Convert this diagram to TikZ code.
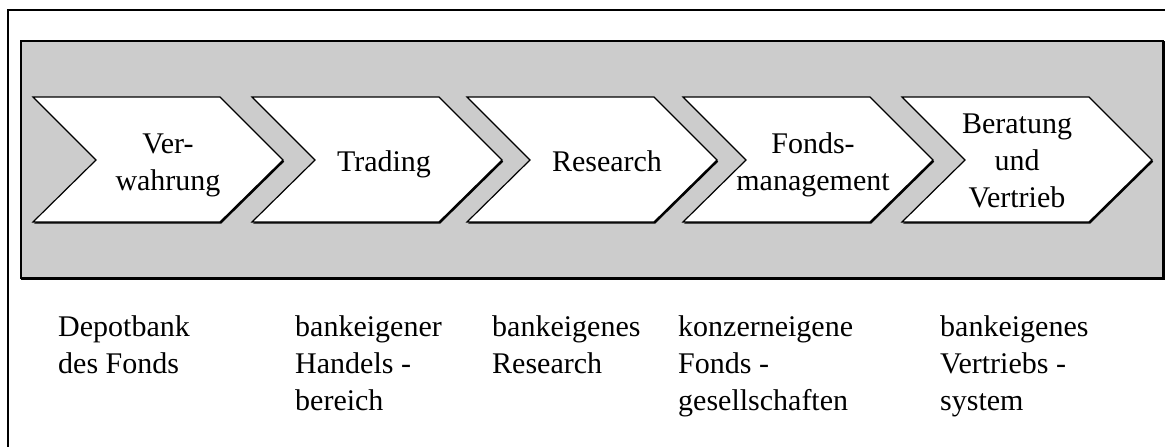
\documentclass[tikz,border=0pt]{standalone}
\usepackage{fontspec}
\setmainfont{Liberation Serif}
\begin{document}
\begin{tikzpicture}[x=1pt,y=-1pt,
  txt/.style={font=\fontsize{30}{37}\selectfont, inner sep=0pt, align=center, anchor=north},
  lbl/.style={font=\fontsize{30}{37}\selectfont, inner sep=0pt, align=left, anchor=north west},
  band/.style={fill=black!20, draw=black, line width=1.4pt},
  chev/.style={fill=white, draw=black, line width=1.2pt, line join=miter},
  shade/.style={fill=black}
]
\useasboundingbox (0,0) rectangle (1165,447);

% outer frame (top and left edges)
\draw[line width=2pt] (8,447) -- (8,10) -- (1165,10);

% grey band with dark lower and right edges
\draw[band] (21,41) rectangle (1163,278);
\draw[line width=2.4pt] (21,278.5) -- (1163.5,278.5) -- (1163.5,41);

% chevron outline: left x = #1
\newcommand{\chevpath}[1]{(#1,97) -- ++(187,0) -- ++(63,63) -- ++(-63,62) -- ++(-187,0) -- ++(63,-62) -- cycle}

\foreach \l in {33,252,467,683,902}{
  \fill[shade] [shift={(1.2,1.6)}] \chevpath{\l};
  \draw[chev] \chevpath{\l};
}

% step captions
\node[txt] (s1) at (168,127) {\strut Ver-\\wahrung};
\node[txt] (s2) at (384,145) {\strut Trading};
\node[txt] (s3) at (607,145) {\strut Research};
\node[txt] (s4) at (813,127) {\strut Fonds-\\management};
\node[txt] (s5) at (1017,107) {\strut Beratung\\und\\Vertrieb};

% providers below the band
\node[lbl] (p1) at (58,310) {\strut Depotbank\\des Fonds};
\node[lbl] (p2) at (295,310) {\strut bankeigener\\Handels -\\bereich};
\node[lbl] (p3) at (492,310) {\strut bankeigenes\\Research};
\node[lbl] (p4) at (678,310) {\strut konzerneigene\\Fonds -\\gesellschaften};
\node[lbl] (p5) at (940,310) {\strut bankeigenes\\Vertriebs -\\system};
\end{tikzpicture}
\end{document}
